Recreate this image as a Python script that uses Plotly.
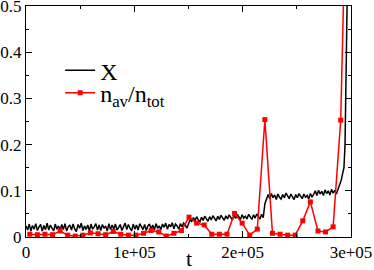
import plotly.graph_objects as go

# ---- data ----
# X : dense noisy trace (values in thousandths), segments with start time and step
X_seg_a = [24,15,28,13,25,17,29,14,22,27,13,25,16,30,15,26,19,13,28,17,
           24,14,27,16,29,13,22,26,15,28,17,12,27,19,30,14,24,16,26,13,
           28,17,22,29,15,26,14,27,19,24,13,29,16,26,17,28,15,22,27,14,
           24,30,16,27,19,13,28,17,26,15,29,21,16,27,14,24,28,17,26,15,
           29,19,24,16,28,21,30,17,27,22,31,18,28,24,17,29,22,30,26,19]
X_seg_b = [30,38,33,42,35,44,37,33,43,36,45,38,34,44,37,46,39,35,45,38,
           47,40,36,46,39,48,41,37,47,40,49,42,38,48,41,45,39,49,42,38,
           48,41,50,43,39,49,42]
X_seg_c = [72,85,92,83,94,85,91,81,93,86,82,92,85,95,87,83,93,86,81,92,
           85,94,87,83,93,86,90,82,94,87]
X_seg_d = [92,100,90,101,93,99,90,102,94,100,91,103,95,101,93,102]
X_tail_t = [289500, 291000, 292500, 293500, 294500, 295500, 296500]
X_tail = [110, 123, 140, 150, 200, 320, 520]
X_step = 1500
X_starts = [0, 150000, 220500, 265500]

# n_av / n_tot : sampled every 7000 starting at 3500
N_t0 = 3500
N_dt = 7000
N_vals = [0.006, 0.005, 0.006, 0.005, 0.013, 0.004, 0.002, 0.004, 0.009, 0.007,
          0.005, 0.012, 0.006, 0.004, 0.004, 0.008, 0.014, 0.011, 0.002, 0.008,
          0.014, 0.043, 0.030, 0.026, 0.006, 0.006, 0.006, 0.051, 0.030, 0.004,
          0.017, 0.254, 0.008, 0.006, 0.004, 0.004, 0.035, 0.076, 0.013, 0.011,
          0.022, 0.253, 0.95]

x_tickvals = [0, 100000, 200000, 300000]
x_ticktext = ["0", "1e+05", "2e+05", "3e+05"]
y_tickvals = [0, 0.1, 0.2, 0.3, 0.4, 0.5]
y_ticktext = ["0", "0.1", "0.2", "0.3", "0.4", "0.5"]

# ---- build series ----
xt, xv = [], []
for start, seg in zip(X_starts, [X_seg_a, X_seg_b, X_seg_c, X_seg_d]):
    for i, v in enumerate(seg):
        xt.append(start + i * X_step)
        xv.append(v / 1000)
xt += X_tail_t
xv += [v / 1000 for v in X_tail]

nt = [N_t0 + i * N_dt for i in range(len(N_vals))]

font = "Liberation Serif"

fig = go.Figure()
fig.add_trace(go.Scatter(x=xt, y=xv, mode="lines", name="X", legend="legend",
                         line=dict(color="black", width=1.5), cliponaxis=True))
fig.add_trace(go.Scatter(x=nt, y=N_vals, mode="lines+markers",
                         name="n<sub>av</sub>/n<sub>tot</sub>", legend="legend2",
                         line=dict(color="#ff0000", width=1.5), cliponaxis=True,
                         marker=dict(symbol="square", size=5, color="#ff0000")))

axis_common = dict(showline=True, linecolor="black", linewidth=1, mirror="ticks",
                   ticks="inside", ticklen=6, tickwidth=1, tickcolor="black",
                   showgrid=False, zeroline=False, ticklabeloverflow="allow",
                   automargin=False,
                   tickfont=dict(family=font, size=17, color="black"))

legend_common = dict(xanchor="left", yanchor="top", bgcolor="rgba(0,0,0,0)",
                     itemwidth=30, font=dict(family=font, size=24, color="black"))

fig.update_layout(
    template="simple_white",
    font=dict(family=font, color="black"),
    width=374, height=270, autosize=False,
    margin=dict(l=26, r=23, t=6, b=33, autoexpand=False),
    paper_bgcolor="white", plot_bgcolor="white",
    showlegend=True,
    legend=dict(x=0.105, y=0.817, **legend_common),
    legend2=dict(x=0.105, y=0.72, **legend_common),
    xaxis=dict(range=[0, 300000], tickvals=x_tickvals, ticktext=x_ticktext,
               minor=dict(ticks="inside", ticklen=3, dtick=50000, tickcolor="black"),
               **axis_common),
    yaxis=dict(range=[0, 0.5], tickvals=y_tickvals, ticktext=y_ticktext,
               minor=dict(ticks="inside", ticklen=3, dtick=0.05, tickcolor="black"),
               **axis_common),
    annotations=[dict(text="t", xref="paper", yref="paper", x=0.5, y=-0.095,
                      xanchor="center", yanchor="middle", showarrow=False,
                      font=dict(family=font, size=22, color="black"))],
)

fig.write_html("out.html", config={"displayModeBar": False},
               post_script="document.body.style.margin='0px';document.body.style.padding='0px';")
